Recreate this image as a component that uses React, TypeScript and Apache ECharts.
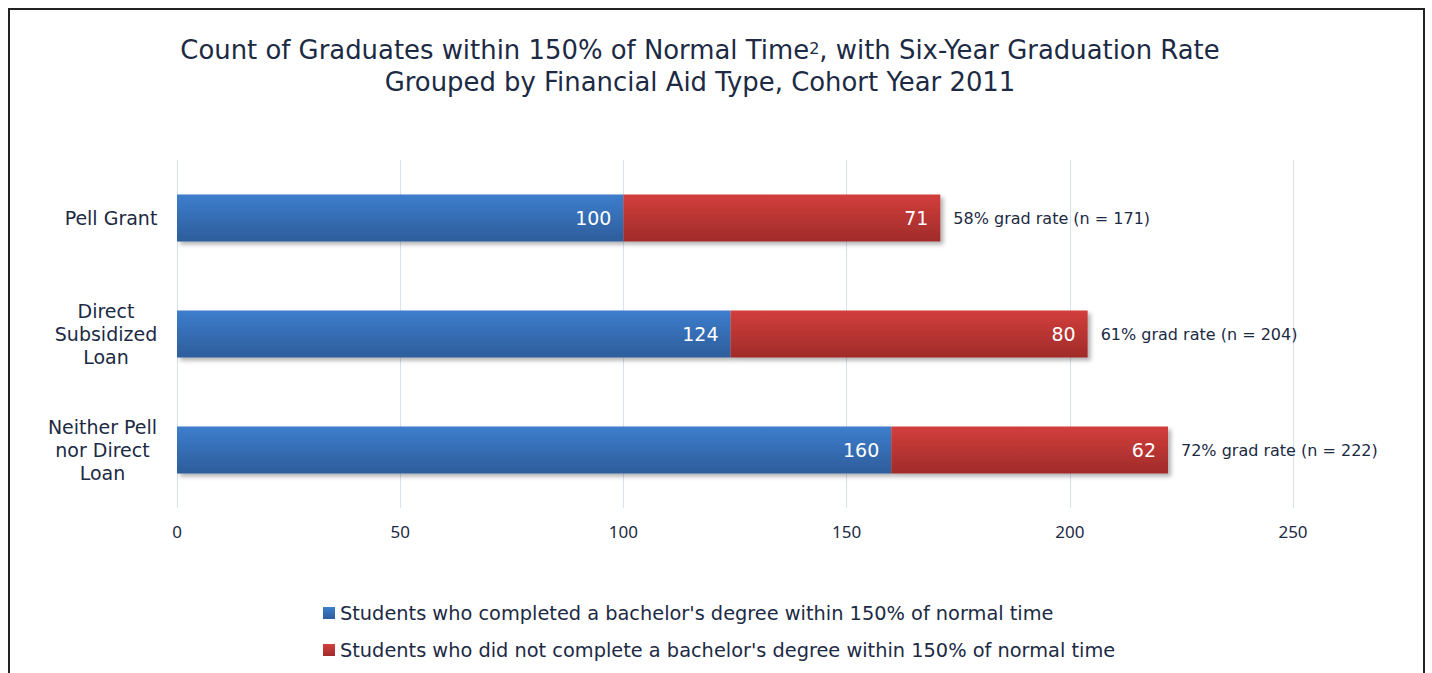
import React, { useEffect, useRef } from "react";
import * as echarts from "echarts";

const categories = ["Pell Grant", "Direct\nSubsidized\nLoan", "Neither Pell\nnor Direct\nLoan"];
const completed = [100, 124, 160];
const notCompleted = [71, 80, 62];
const gradRates = ["58%", "61%", "72%"];
const cohortN = [171, 204, 222];
const xTicks = [0, 50, 100, 150, 200, 250];
const seriesNames = [
  "Students who completed a bachelor's degree within 150% of normal time",
  "Students who did not complete a bachelor's degree within 150% of normal time",
];

const FONT = "'DejaVu Sans', sans-serif";
const TICKFONT = "'Noto Sans', sans-serif";
const TEXT = "#1c2a44";
const CAT_SIZE = 19;

export default function App() {
  const ref = useRef<HTMLDivElement>(null);
  useEffect(() => {
    document.documentElement.style.overflow = "hidden";
    const chart = echarts.init(ref.current!, undefined, { renderer: "svg" });
    const ctx = document.createElement("canvas").getContext("2d")!;
    ctx.font = `${CAT_SIZE}px 'DejaVu Sans'`;
    const rich: Record<string, any> = {};
    categories.forEach((c, i) => {
      const w = Math.max(...c.split("\n").map((l) => ctx.measureText(l).width));
      rich["c" + i] = {
        width: Math.ceil(w) + 1,
        align: "center",
        fontSize: CAT_SIZE,
        lineHeight: 23,
        color: TEXT,
        fontFamily: FONT,
      };
    });
    const blue = new echarts.graphic.LinearGradient(0, 0, 0, 1, [
      { offset: 0, color: "#3d7ecd" },
      { offset: 1, color: "#2d5d9b" },
    ]);
    const red = new echarts.graphic.LinearGradient(0, 0, 0, 1, [
      { offset: 0, color: "#d23f3c" },
      { offset: 1, color: "#a02b2a" },
    ]);
    const shadow = {
      shadowBlur: 4,
      shadowOffsetX: 3,
      shadowOffsetY: 3,
      shadowColor: "rgba(0,0,0,0.3)",
    };
    chart.setOption({
      animation: false,
      textStyle: { fontFamily: FONT },
      graphic: [
        {
          type: "polyline",
          shape: { points: [[1, 700], [1, 1], [1416, 1], [1416, 700]] },
          style: { stroke: "#222", lineWidth: 2, fill: "none" },
        },
        {
          type: "text",
          x: 692,
          y: 58,
          style: {
            text:
              "Count of Graduates within 150% of Normal Time{sup|2}, with Six-Year Graduation Rate\nGrouped by Financial Aid Type, Cohort Year 2011",
            fontSize: 25.9,
            lineHeight: 32,
            fontFamily: FONT,
            fill: TEXT,
            align: "center",
            verticalAlign: "middle",
            rich: {
              sup: { fontSize: 16, lineHeight: 32, fill: TEXT, fontFamily: FONT, padding: [0, 0, 4, 0] },
            },
          },
        },
      ],
      legend: {
        data: seriesNames,
        orient: "vertical",
        left: 310,
        top: 590,
        itemWidth: 12,
        itemHeight: 12,
        itemGap: 17,
        icon: "rect",
        textStyle: { fontSize: 19.35, color: TEXT, fontFamily: FONT, lineHeight: 20 },
      },
      grid: { left: 169, top: 152, width: 1116, height: 348, containLabel: false },
      xAxis: {
        type: "value",
        min: 0,
        max: 250,
        interval: 50,
        axisLine: { show: false },
        axisTick: { show: false },
        splitLine: { lineStyle: { color: "#d5e1f1", width: 1 } },
        axisLabel: {
          fontSize: 17,
          color: TEXT,
          margin: 15,
          fontFamily: TICKFONT,
          formatter: (v: number) => (xTicks.includes(v) ? String(v) : ""),
        },
      },
      yAxis: {
        type: "category",
        data: categories,
        inverse: true,
        axisLine: { show: false },
        axisTick: { show: false },
        axisLabel: {
          fontSize: CAT_SIZE,
          lineHeight: 23,
          color: TEXT,
          align: "right",
          margin: 19,
          fontFamily: FONT,
          rich,
          formatter: (v: string, i: number) =>
            v
              .split("\n")
              .map((l) => `{c${i}|${l}}`)
              .join("\n"),
        },
      },
      series: [
        {
          name: seriesNames[0],
          type: "bar",
          stack: "total",
          barWidth: 47,
          data: completed,
          itemStyle: { color: blue, ...shadow },
          label: {
            show: true,
            position: "insideRight",
            distance: 12,
            color: "#fff",
            fontSize: 19,
            fontFamily: FONT,
          },
        },
        {
          name: seriesNames[1],
          type: "bar",
          stack: "total",
          barWidth: 47,
          data: notCompleted,
          itemStyle: { color: red, ...shadow },
          label: {
            show: true,
            position: "insideRight",
            distance: 12,
            color: "#fff",
            fontSize: 19,
            fontFamily: FONT,
          },
        },
        {
          name: "rate",
          type: "bar",
          stack: "total",
          barWidth: 47,
          data: completed.map(() => 0),
          itemStyle: { color: "transparent" },
          label: {
            show: true,
            position: "right",
            distance: 13,
            color: TEXT,
            fontSize: 16,
            fontFamily: FONT,
            formatter: (p: any) => `${gradRates[p.dataIndex]} grad rate (n = ${cohortN[p.dataIndex]})`,
          },
        },
      ],
    });
    return () => chart.dispose();
  }, []);
  return (
    <div
      ref={ref}
      style={{ position: "absolute", left: 8, top: 8, width: 1418, height: 665 }}
    />
  );
}
